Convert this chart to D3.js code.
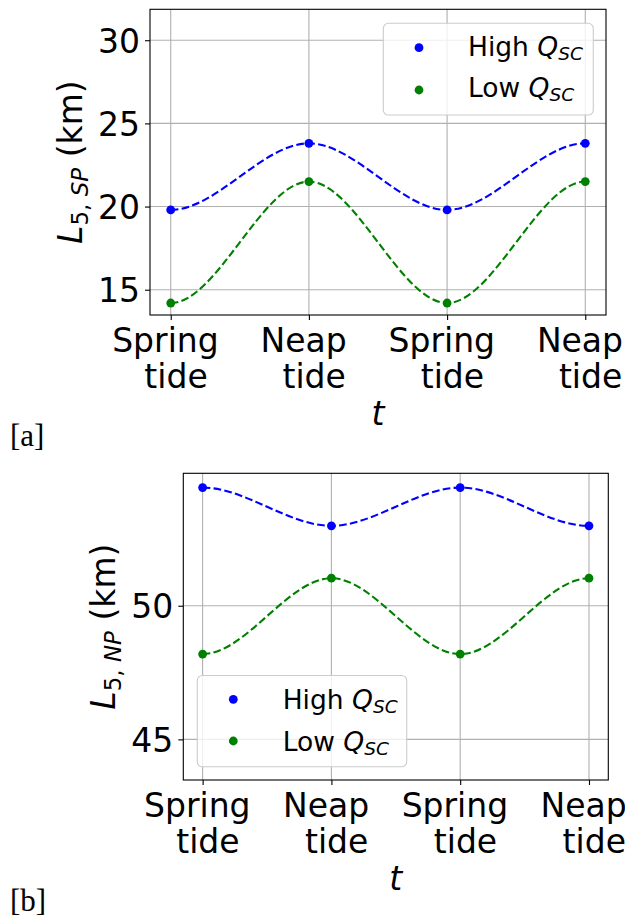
<!DOCTYPE html>
<html>
<head>
<meta charset="utf-8">
<script src="https://cdn.jsdelivr.net/npm/d3@7"></script>
<style>
  html, body { margin: 0; padding: 0; background: #fff; }
  svg { display: block; }
  text { fill: #000; }
</style>
</head>
<body>
<div id="chart"></div>
<script>
// ---------- data ----------
const xPositions = [0, 1, 2, 3];
const tickLine1 = ["Spring", "Neap", "Spring", "Neap"];
const tickLine2 = ["tide", "tide", "tide", "tide"];

const aHigh = [19.8, 23.8, 19.8, 23.8];
const aLow  = [14.2, 21.5, 14.2, 21.5];
const aYTicks = [15, 20, 25, 30];

const bHigh = [54.42, 52.99, 54.42, 52.99];
const bLow  = [48.19, 51.03, 48.19, 51.03];
const bYTicks = [45, 50];

const seriesNames = ["High", "Low"];
const seriesColors = ["#0000ff", "#008000"];

// ---------- setup ----------
const W = 625, H = 917;
const SANS = "'DejaVu Sans', sans-serif";
const svg = d3.select("#chart").append("svg")
  .attr("width", W).attr("height", H)
  .style("font-family", SANS);

// flat-tangent cubic Hermite curve (zero slope at each data point)
function CurveFlat(context) { this._context = context; }
CurveFlat.prototype = {
  areaStart() { this._line = 0; },
  areaEnd() { this._line = NaN; },
  lineStart() { this._point = 0; },
  lineEnd() {},
  point(x, y) {
    x = +x; y = +y;
    if (!this._point) { this._context.moveTo(x, y); this._point = 1; }
    else {
      const h = (x - this._x0) / 3;
      this._context.bezierCurveTo(this._x0 + h, this._y0, x - h, y, x, y);
    }
    this._x0 = x; this._y0 = y;
  }
};
const curveFlat = ctx => new CurveFlat(ctx);

function drawPanel(cfg) {
  const { left, right, top, bottom, yDomain, yTicks, high, low,
          labelX, labelSub, legend, xLabelY, panelTag, tagY } = cfg;
  const g = svg.append("g");
  const x = d3.scaleLinear().domain([-0.15, 3.15]).range([left, right]);
  const y = d3.scaleLinear().domain(yDomain).range([bottom, top]);

  // grid
  g.append("g").selectAll("line").data(xPositions).join("line")
    .attr("x1", d => x(d)).attr("x2", d => x(d))
    .attr("y1", top).attr("y2", bottom)
    .attr("stroke", "#b0b0b0").attr("stroke-width", 1.1);
  g.append("g").selectAll("line").data(yTicks).join("line")
    .attr("x1", left).attr("x2", right)
    .attr("y1", d => y(d)).attr("y2", d => y(d))
    .attr("stroke", "#b0b0b0").attr("stroke-width", 1.1);

  // axes (ticks)
  const yAxis = d3.axisLeft(y).tickValues(yTicks).tickSize(5).tickPadding(5)
    .tickFormat(d3.format("d"));
  const ya = g.append("g").attr("transform", `translate(${left},0)`).call(yAxis);
  ya.select(".domain").remove();
  ya.selectAll(".tick line").attr("stroke", "#000").attr("stroke-width", 1.1);
  ya.selectAll(".tick text").attr("font-size", 33)
    .style("font-family", SANS).attr("dy", "0.36em");

  const xAxis = d3.axisBottom(x).tickValues(xPositions).tickSize(5).tickFormat("");
  const xa = g.append("g").attr("transform", `translate(0,${bottom})`).call(xAxis);
  xa.select(".domain").remove();
  xa.selectAll(".tick line").attr("stroke", "#000").attr("stroke-width", 1.1);

  // two-line tick labels
  const tl = g.append("g").selectAll("text").data(xPositions).join("text")
    .attr("font-size", 33).attr("text-anchor", "middle");
  tl.append("tspan").attr("x", d => x(d) - 5.3).attr("y", bottom + 36.7)
    .text((d, i) => tickLine1[i]);
  tl.append("tspan").attr("x", d => x(d) + 5.3).attr("y", bottom + 72.7)
    .text((d, i) => tickLine2[i]);

  // lines + markers
  const line = d3.line().x((d, i) => x(xPositions[i])).y(d => y(d)).curve(curveFlat);
  [high, low].forEach((s, k) => {
    g.append("path").attr("d", line(s)).attr("fill", "none")
      .attr("stroke", seriesColors[k]).attr("stroke-width", 2.1)
      .attr("stroke-dasharray", "7.7,3.3");
  });
  [high, low].forEach((s, k) => {
    g.append("g").selectAll("circle").data(s).join("circle")
      .attr("cx", (d, i) => x(xPositions[i])).attr("cy", d => y(d))
      .attr("r", 4.4).attr("fill", seriesColors[k]);
  });

  // frame
  g.append("rect").attr("x", left).attr("y", top)
    .attr("width", right - left).attr("height", bottom - top)
    .attr("fill", "none").attr("stroke", "#000").attr("stroke-width", 1.1);

  // y label
  const yl = g.append("text")
    .attr("transform", `translate(${labelX},${(top + bottom) / 2}) rotate(-90)`)
    .attr("text-anchor", "middle").attr("font-size", 33);
  yl.append("tspan").attr("font-style", "italic").text("L");
  yl.append("tspan").attr("font-size", 23).attr("dy", 6).text("5, ");
  yl.append("tspan").attr("font-size", 23).attr("font-style", "italic").text(labelSub);
  yl.append("tspan").attr("dy", -6).text("\u00a0(km)");

  // x label
  g.append("text").attr("x", (left + right) / 2).attr("y", xLabelY)
    .attr("text-anchor", "middle").attr("font-size", 33)
    .attr("font-style", "italic").text("t");

  // legend
  const L = legend;
  const lg = g.append("g");
  lg.append("rect").attr("x", L.x).attr("y", L.y).attr("width", L.w).attr("height", L.h)
    .attr("rx", 5).attr("fill", "#fff").attr("fill-opacity", 0.8)
    .attr("stroke", "#cccccc").attr("stroke-width", 1.1);
  seriesNames.forEach((name, k) => {
    const cy = L.rowY[k];
    lg.append("circle").attr("cx", L.mx).attr("cy", cy).attr("r", 4.4)
      .attr("fill", seriesColors[k]);
    const t = lg.append("text").attr("x", L.tx).attr("y", L.base[k]).attr("font-size", 26.5);
    t.append("tspan").text(name + "\u00a0");
    t.append("tspan").attr("font-style", "italic").text("Q");
    t.append("tspan").attr("font-style", "italic").attr("font-size", 18.5)
      .attr("dy", 4).text("SC");
  });

  // panel tag
  svg.append("text").attr("x", 10).attr("y", tagY)
    .style("font-family", "'Liberation Serif', 'DejaVu Serif', serif")
    .attr("font-size", 31).text(panelTag);
}

drawPanel({
  left: 150, right: 606, top: 9.3, bottom: 315,
  yDomain: [13.48, 31.86], yTicks: aYTicks, high: aHigh, low: aLow,
  labelX: 81.5, labelSub: "SP",
  legend: { x: 383.3, y: 23.3, w: 210, h: 91.7, mx: 419, tx: 468,
            rowY: [47.7, 90], base: [55.5, 97] },
  xLabelY: 425, panelTag: "[a]", tagY: 446
});

drawPanel({
  left: 183.3, right: 608.3, top: 473.3, bottom: 780,
  yDomain: [43.48, 54.955], yTicks: bYTicks, high: bHigh, low: bLow,
  labelX: 115, labelSub: "NP",
  legend: { x: 197.3, y: 675.5, w: 209.4, h: 91.3, mx: 233.3, tx: 282.7,
            rowY: [699.3, 741], base: [708.5, 750.5] },
  xLabelY: 890, panelTag: "[b]", tagY: 911
});
</script>
</body>
</html>
